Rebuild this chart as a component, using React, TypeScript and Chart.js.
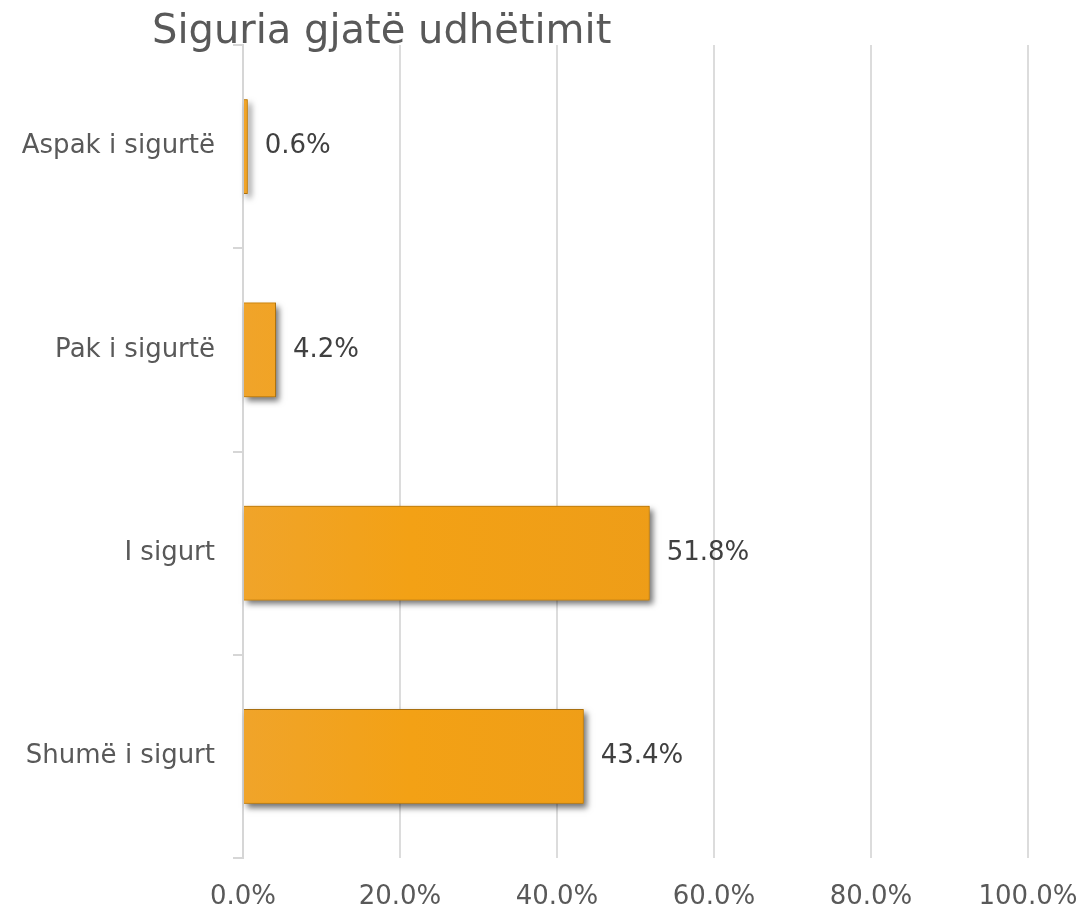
import React, { useEffect, useRef } from "react";
import { Chart, registerables } from "chart.js";

Chart.register(...registerables);

const TITLE = "Siguria gjatë udhëtimit";
const categories = ["Aspak i sigurtë", "Pak i sigurtë", "I sigurt", "Shumë i sigurt"];
const values = [0.6, 4.2, 51.8, 43.4];
const xTicks = [0, 20, 40, 60, 80, 100];

const FONT = "'DejaVu Sans', 'Liberation Sans', sans-serif";

const shadowPlugin = {
  id: "barShadow",
  beforeDatasetsDraw(chart: any) {
    const ctx = chart.ctx;
    const meta = chart.getDatasetMeta(0);
    ctx.save();
    ctx.shadowColor = "rgba(0,0,0,0.55)";
    ctx.shadowBlur = 6;
    ctx.shadowOffsetX = 3;
    ctx.shadowOffsetY = 4;
    ctx.fillStyle = "#F2A114";
    meta.data.forEach((bar: any) => {
      const left = Math.min(bar.base, bar.x);
      const w = Math.abs(bar.x - bar.base);
      const top = bar.y - bar.height / 2;
      ctx.fillRect(left, top, w, bar.height);
    });
    ctx.restore();
  },
};

const labelPlugin = {
  id: "labelsAndTitle",
  afterDraw(chart: any) {
    const ctx = chart.ctx;
    const meta = chart.getDatasetMeta(0);
    ctx.save();
    ctx.font = `26px ${FONT}`;
    ctx.fillStyle = "#404040";
    ctx.textAlign = "left";
    ctx.textBaseline = "middle";
    meta.data.forEach((bar: any, i: number) => {
      ctx.fillText(values[i].toFixed(1) + "%", bar.x + 17, bar.y);
    });
    ctx.font = `40px ${FONT}`;
    ctx.fillStyle = "#595959";
    ctx.textBaseline = "alphabetic";
    ctx.fillText(TITLE, 152, 43);
    ctx.restore();
  },
};

export default function App() {
  const ref = useRef<HTMLCanvasElement>(null);
  useEffect(() => {
    if (!ref.current) return;
    const ctx = ref.current.getContext("2d")!;
    const grad = ctx.createLinearGradient(243, 0, 660, 0);
    grad.addColorStop(0, "#F0A42A");
    grad.addColorStop(0.4, "#F3A115");
    grad.addColorStop(1, "#EE9D18");
    const chart = new Chart(ref.current, {
      type: "bar",
      data: {
        labels: categories,
        datasets: [
          {
            data: values,
            backgroundColor: grad,
            borderColor: "#A86F10",
            borderWidth: 1,
            barPercentage: 1,
            categoryPercentage: 0.465,
          },
        ],
      },
      options: {
        indexAxis: "y",
        responsive: false,
        animation: false,
        devicePixelRatio: 1,
        layout: { padding: { top: 45, right: 58, left: 0, bottom: 0 } },
        plugins: {
          legend: { display: false },
          title: { display: false },
          tooltip: { enabled: false },
        },
        scales: {
          x: {
            min: 0,
            max: 100,
            afterBuildTicks(scale: any) {
              scale.ticks = xTicks.map((v) => ({ value: v }));
            },
            afterFit(scale: any) {
              scale.height = 53;
              scale.paddingLeft = 0;
              scale.paddingRight = 0;
            },
            ticks: {
              callback: (v: any) => Number(v).toFixed(1) + "%",
              font: { family: FONT, size: 26 },
              color: "#595959",
              padding: 24,
              maxRotation: 0,
            },
            grid: { color: "#dcdcdc", lineWidth: 2, drawTicks: false },
            border: { display: false },
          },
          y: {
            afterFit(scale: any) {
              scale.width = 243;
              scale.paddingTop = 0;
              scale.paddingBottom = 0;
            },
            ticks: {
              font: { family: FONT, size: 26 },
              color: "#595959",
              padding: 18,
            },
            grid: {
              drawOnChartArea: false,
              drawTicks: true,
              tickLength: 10,
              color: "#d6d6d6",
              lineWidth: 2,
            },
            border: { display: true, color: "#d6d6d6", width: 2 },
          },
        },
      },
      plugins: [shadowPlugin, labelPlugin],
    });
    return () => chart.destroy();
  }, []);
  return (
    <div style={{ position: "absolute", left: 0, top: 0, width: 1086, height: 911, background: "#fff" }}>
      <canvas ref={ref} width={1086} height={911} />
    </div>
  );
}
